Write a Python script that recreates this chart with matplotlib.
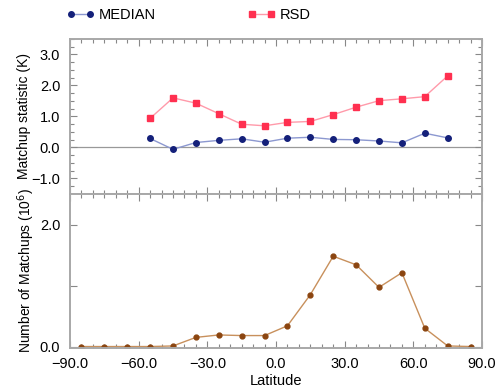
import matplotlib
matplotlib.use("Agg")
import matplotlib.pyplot as plt
from matplotlib.ticker import MultipleLocator
from matplotlib.legend_handler import HandlerLine2D

plt.rcParams["font.family"] = ["Liberation Sans", "DejaVu Sans"]

# latitude bin centres
lat_stat = [-55, -45, -35, -25, -15, -5, 5, 15, 25, 35, 45, 55, 65, 75]
median = [0.29, -0.06, 0.16, 0.23, 0.28, 0.17, 0.30, 0.33, 0.26, 0.25, 0.21, 0.15, 0.46, 0.31]
rsd = [0.94, 1.60, 1.43, 1.09, 0.75, 0.70, 0.81, 0.84, 1.06, 1.30, 1.51, 1.57, 1.64, 2.31]

lat_count = [-85, -75, -65, -55, -45, -35, -25, -15, -5, 5, 15, 25, 35, 45, 55, 65, 75, 85]
counts = [0.0, 0.0, 0.0, 0.0, 0.01, 0.15, 0.19, 0.18, 0.18, 0.34, 0.85, 1.48, 1.34,
          0.97, 1.21, 0.30, 0.01, 0.0]

FRAME = "#a8a8a8"


def style(ax):
    for s in ax.spines.values():
        s.set_color(FRAME)
        s.set_linewidth(1.4)
    ax.tick_params(which="both", direction="in", top=True, right=True,
                   color="#888888", labelsize=10.5, pad=7)
    ax.tick_params(which="major", length=5, width=0.8)
    ax.tick_params(which="minor", length=3, width=0.8)
    ax.set_xlim(-90, 90)
    ax.xaxis.set_major_locator(MultipleLocator(30))
    ax.xaxis.set_minor_locator(MultipleLocator(5))


fig = plt.figure(figsize=(5, 3.89), dpi=100)
ax1 = fig.add_axes([0.14, 0.5013, 0.824, 0.3985])
ax2 = fig.add_axes([0.14, 0.106, 0.824, 0.3953])

style(ax1)
ax1.axhline(0, color="#999999", lw=0.9, zorder=1)
l1, = ax1.plot(lat_stat, median, color="#8c98d0", lw=1.0, marker="o", ms=4,
               mfc="#14207a", mec="#14207a", label="MEDIAN")
l2, = ax1.plot(lat_stat, rsd, color="#ff9aaa", lw=1.0, marker="s", ms=4,
               mfc="#ff3050", mec="#ff3050", label="RSD")
ax1.set_ylim(-1.5, 3.5)
ax1.yaxis.set_major_locator(MultipleLocator(1.0))
ax1.yaxis.set_minor_locator(MultipleLocator(0.25))
ax1.yaxis.set_major_formatter(lambda v, p: f"{v:.1f}".replace("-", "\u2212"))
ax1.set_xticklabels([])
ax1.set_ylabel("Matchup statistic (K)", fontsize=10)
ax1.yaxis.set_label_coords(-0.095, 0.5)

style(ax2)
ax2.plot(lat_count, counts, color="#c8905c", lw=1.0, marker="o", ms=3.5,
         mfc="#8b4510", mec="#8b4510")
ax2.set_ylim(-0.02, 2.5)
ax2.set_yticks([0, 1, 2], ["0.0", "", "2.0"])
ax2.yaxis.set_minor_locator(MultipleLocator(10))
ax2.set_xticks(range(-90, 91, 30),
               [f"{v:.1f}".replace("-", "\u2212") for v in range(-90, 91, 30)])
ax2.set_ylabel("Number of Matchups (10$^6$)", fontsize=10)
ax2.yaxis.set_label_coords(-0.08, 0.5)
ax2.set_xlabel("Latitude", fontsize=10.5, labelpad=2)

hm = {l1: HandlerLine2D(marker_pad=0, numpoints=2),
      l2: HandlerLine2D(marker_pad=0, numpoints=2)}
fig.legend([l1, l2], ["MEDIAN", "RSD"], loc="upper left", ncol=2,
           bbox_to_anchor=(0.115, 1.012), frameon=False, fontsize=10.5,
           handler_map=hm, handlelength=1.3, columnspacing=6.6, handletextpad=0.6)

fig.savefig("out.png", dpi=100)
